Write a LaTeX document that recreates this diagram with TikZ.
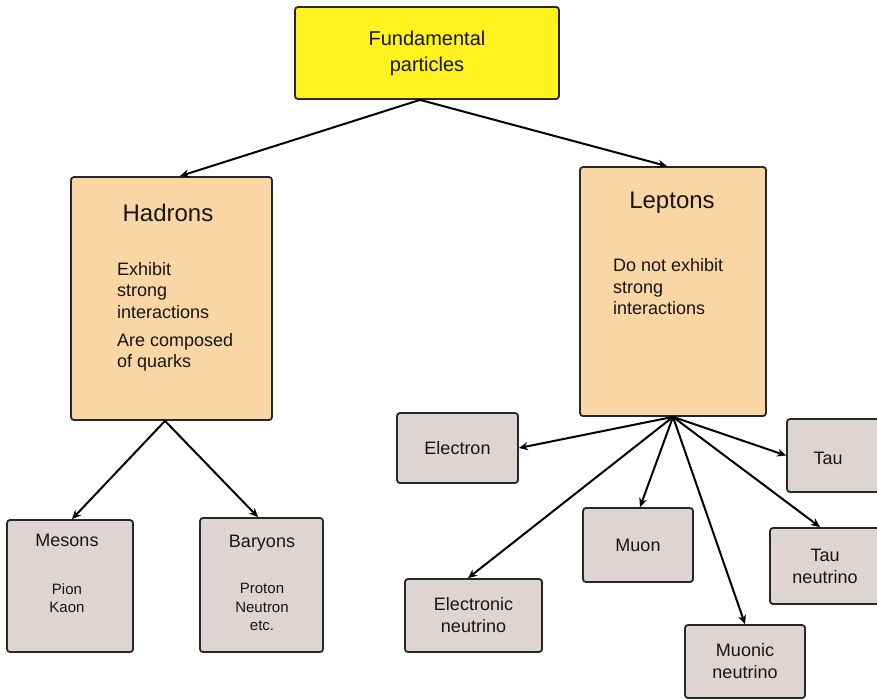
\documentclass[tikz,border=0pt]{standalone}
\usepackage{fontspec}
\setmainfont{Liberation Sans}
\usetikzlibrary{arrows.meta}

\definecolor{topyellow}{RGB}{255,242,30}
\definecolor{boxpeach}{RGB}{250,214,165}
\definecolor{boxgrey}{RGB}{222,212,210}
\definecolor{edgegrey}{RGB}{40,40,40}
\definecolor{inkgrey}{RGB}{22,22,22}

\tikzset{
  pbox/.style={draw=edgegrey, line width=1.8pt, rounded corners=3pt, inner sep=0pt, align=center, text=inkgrey},
  topbox/.style={pbox, fill=topyellow, font=\fontsize{20}{26}\selectfont},
  famtbox/.style={pbox, fill=boxpeach},
  kindbox/.style={pbox, fill=boxgrey, font=\fontsize{18}{22}\selectfont},
  headtxt/.style={inner sep=0pt, text=inkgrey, font=\fontsize{24}{28}\selectfont},
  bodytxt/.style={inner sep=0pt, text=inkgrey, align=left, anchor=north west, font=\fontsize{18}{21.5}\selectfont},
  smalltxt/.style={inner sep=0pt, text=inkgrey, align=center, font=\fontsize{15}{18.5}\selectfont},
  arr/.style={-{Stealth[length=9pt,width=8pt]}, line width=2pt, draw=black},
}

\begin{document}
\begin{tikzpicture}[x=1pt,y=1pt,yscale=-1,xscale=1]
\useasboundingbox (0,0) rectangle (877,699);

%Shape: Rectangle [top]
\node[topbox, minimum width=264pt, minimum height=92pt] (top) at (427,53) {Fundamental\\particles};

%Shape: Rectangle [hadrons]
\node[famtbox, minimum width=201pt, minimum height=243pt] (had) at (171.5,298.5) {};
\node[headtxt] (hadhead) at (168,213) {Hadrons};
\node[bodytxt] (hadbody) at (117,262) {Exhibit\\strong\\interactions\\[6.5pt]Are composed\\of quarks};

%Shape: Rectangle [leptons]
\node[famtbox, minimum width=186pt, minimum height=249pt] (lep) at (673,291.5) {};
\node[headtxt] (lephead) at (672,203) {Leptons};
\node[bodytxt] (lepbody) at (613,258.5) {Do not exhibit\\strong\\interactions};

%Shape: Rectangle [mesons, baryons]
\node[kindbox, minimum width=126pt, minimum height=132pt] (mes) at (70,586) {};
\node[kindbox, draw=none, fill=none] (meshead) at (67,540) {Mesons};
\node[smalltxt] (mesbody) at (67,598) {Pion\\Kaon};
\node[kindbox, minimum width=123pt, minimum height=134pt] (bar) at (261.5,585) {};
\node[kindbox, draw=none, fill=none] (barhead) at (262,543) {Baryons};
\node[smalltxt] (barbody) at (262,607) {Proton\\Neutron\\etc.};

%Shape: Rectangle [lepton kinds]
\node[kindbox, minimum width=121pt, minimum height=70pt] (ele) at (457.5,448) {Electron};
\node[kindbox, minimum width=98pt, minimum height=73pt] (tau) at (836,455.5) {};
\node[kindbox, draw=none, fill=none] (tautxt) at (828,458) {Tau};
\node[kindbox, minimum width=110pt, minimum height=74pt] (muon) at (638,545) {Muon};
\node[kindbox, minimum width=137pt, minimum height=73pt] (eln) at (473.5,615.5) {Electronic\\neutrino};
\node[kindbox, minimum width=120pt, minimum height=73pt] (mun) at (745,661.5) {Muonic\\neutrino};
\node[kindbox, minimum width=115pt, minimum height=76pt] (tan) at (827.5,566) {};
\node[kindbox, draw=none, fill=none] (tantxt) at (825,566) {Tau\\neutrino};

%Straight Lines [top to families]
\draw[arr] ([xshift=-7]top.south) -- ([xshift=8.5]had.north);
\draw[arr] ([xshift=-7]top.south) -- ([xshift=-6]lep.north);

%Straight Lines [hadrons]
\draw[arr] ([xshift=-6.5]had.south) -- ([xshift=2]mes.north);
\draw[arr] ([xshift=-6.5]had.south) -- ([xshift=-3.5]bar.north);

%Straight Lines [leptons]
\draw[arr] (lep.south) -- (ele.east);
\draw[arr] (lep.south) -- (tau.west);
\draw[arr] (lep.south) -- ([xshift=2]muon.north);
\draw[arr] (lep.south) -- ([xshift=-5.5]eln.north);
\draw[arr] (lep.south) -- (mun.north);
\draw[arr] (lep.south) -- ([xshift=-7.5]tan.north);

\end{tikzpicture}
\end{document}
